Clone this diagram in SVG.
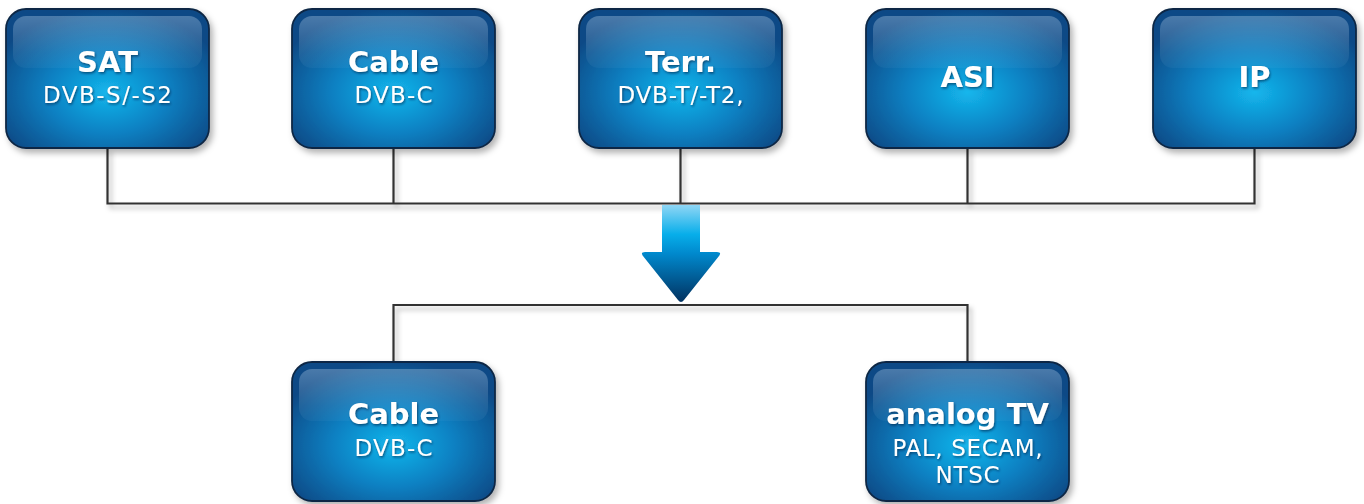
<svg xmlns="http://www.w3.org/2000/svg" width="1364" height="504" viewBox="0 0 1364 504">
<defs>
  <radialGradient id="boxFill" cx="0.5" cy="0.6" r="0.6">
    <stop offset="0" stop-color="#14b6ec"/>
    <stop offset="0.5" stop-color="#0a80c2"/>
    <stop offset="1" stop-color="#0a4a86"/>
  </radialGradient>
  <linearGradient id="gloss" x1="0" y1="0" x2="0" y2="1">
    <stop offset="0" stop-color="#d8ecff" stop-opacity="0.3"/>
    <stop offset="0.7" stop-color="#d8ecff" stop-opacity="0.1"/>
    <stop offset="1" stop-color="#d8ecff" stop-opacity="0.04"/>
  </linearGradient>
  <linearGradient id="arrowFill" x1="0" y1="205" x2="0" y2="303" gradientUnits="userSpaceOnUse">
    <stop offset="0" stop-color="#8fd6f5"/>
    <stop offset="0.3" stop-color="#07aeea"/>
    <stop offset="0.5" stop-color="#0088cc"/>
    <stop offset="1" stop-color="#02305e"/>
  </linearGradient>
  <filter id="boxShadow" x="-10%" y="-10%" width="125%" height="125%">
    <feDropShadow dx="3" dy="4" stdDeviation="3" flood-color="#000" flood-opacity="0.3"/>
  </filter>
  <filter id="lineShadow" x="-5%" y="-50%" width="110%" height="200%">
    <feDropShadow dx="3" dy="4" stdDeviation="2.5" flood-color="#000" flood-opacity="0.3"/>
  </filter>
  <filter id="textShadow" x="-10%" y="-20%" width="120%" height="150%">
    <feDropShadow dx="1" dy="1.5" stdDeviation="1" flood-color="#002040" flood-opacity="0.6"/>
  </filter>
</defs>
<style>
  .box { fill: url(#boxFill); stroke: #0b2845; stroke-width: 1.8; filter: url(#boxShadow); }
  .gloss { fill: url(#gloss); }
  .title { font-family: "DejaVu Sans", Verdana, sans-serif; font-weight: bold; font-size: 29px; fill: #ffffff; text-anchor: middle; filter: url(#textShadow); }
  .sub { font-family: "DejaVu Sans", Verdana, sans-serif; font-size: 23px; fill: #ffffff; text-anchor: middle; filter: url(#textShadow); }
  .conn { fill: none; stroke: #333333; stroke-width: 2.2; filter: url(#lineShadow); }
</style>
<rect width="1364" height="504" fill="#ffffff"/>

<g id="connectors">
  <path class="conn" d="M107.5 148 V203.5 H1254.5 V148 M393.5 148 V203.5 M680.5 148 V203.5 M967.5 148 V203.5"/>
  <path class="conn" d="M393.5 362 V305 H967.5 V362"/>
  <path id="arrow" d="M662 205 H700 V252 H717 Q722 252 719 256 L684 300 Q681 304 678 300 L643 256 Q640 252 645 252 H662 Z" fill="url(#arrowFill)"/>
</g>

<g id="node-sat">
  <rect class="box" x="6" y="9" width="203" height="139" rx="20"/>
  <rect class="gloss" x="13" y="16" width="189" height="52" rx="13"/>
  <text class="title" x="107.5" y="72">SAT</text>
  <text class="sub" x="107.5" y="103" textLength="129" lengthAdjust="spacing">DVB-S/-S2</text>
</g>
<g id="node-cable">
  <rect class="box" x="292" y="9" width="203" height="139" rx="20"/>
  <rect class="gloss" x="299" y="16" width="189" height="52" rx="13"/>
  <text class="title" x="393.5" y="72">Cable</text>
  <text class="sub" x="393.5" y="103" textLength="78" lengthAdjust="spacing">DVB-C</text>
</g>
<g id="node-terr">
  <rect class="box" x="579" y="9" width="203" height="139" rx="20"/>
  <rect class="gloss" x="586" y="16" width="189" height="52" rx="13"/>
  <text class="title" x="680.5" y="72">Terr.</text>
  <text class="sub" x="680.5" y="103" textLength="126" lengthAdjust="spacing">DVB-T/-T2,</text>
</g>
<g id="node-asi">
  <rect class="box" x="866" y="9" width="203" height="139" rx="20"/>
  <rect class="gloss" x="873" y="16" width="189" height="52" rx="13"/>
  <text class="title" x="967.5" y="87">ASI</text>
</g>
<g id="node-ip">
  <rect class="box" x="1153" y="9" width="203" height="139" rx="20"/>
  <rect class="gloss" x="1160" y="16" width="189" height="52" rx="13"/>
  <text class="title" x="1254.5" y="87">IP</text>
</g>
<g id="node-cable-out">
  <rect class="box" x="292" y="362" width="203" height="139" rx="20"/>
  <rect class="gloss" x="299" y="369" width="189" height="52" rx="13"/>
  <text class="title" x="393.5" y="424">Cable</text>
  <text class="sub" x="393.5" y="456" textLength="78" lengthAdjust="spacing">DVB-C</text>
</g>
<g id="node-analog">
  <rect class="box" x="866" y="362" width="203" height="139" rx="20"/>
  <rect class="gloss" x="873" y="369" width="189" height="52" rx="13"/>
  <text class="title" x="967.5" y="424">analog TV</text>
  <text class="sub" x="967.5" y="456" textLength="150" lengthAdjust="spacing">PAL, SECAM,</text>
  <text class="sub" x="967.5" y="483" textLength="64" lengthAdjust="spacing">NTSC</text>
</g>
</svg>
